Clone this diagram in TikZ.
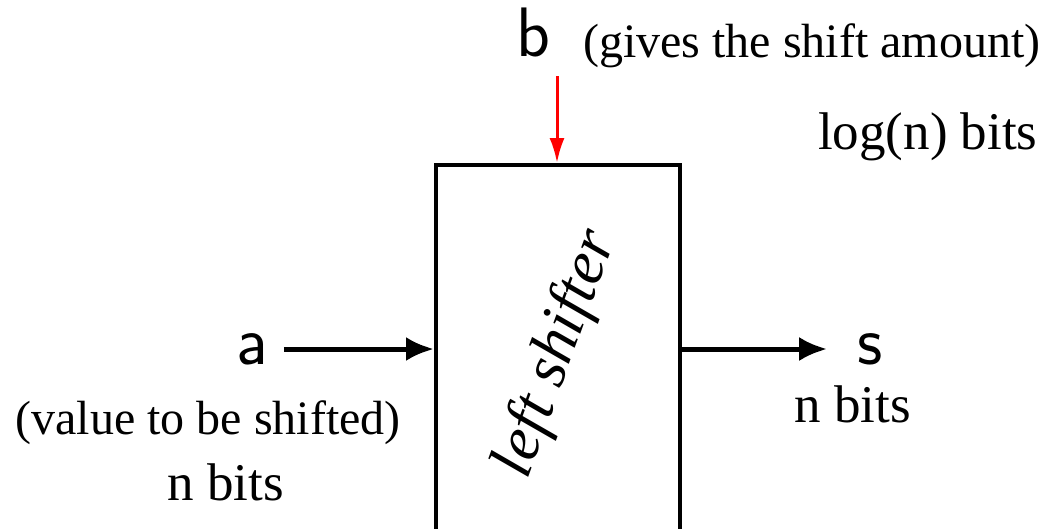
\documentclass[tikz,border=0pt]{standalone}
\usepackage{fontspec}
\setmainfont{Liberation Serif}[ItalicFont={Liberation Serif Italic}]
\newfontfamily\shifterfont{Liberation Serif Italic}
\usetikzlibrary{arrows.meta}
\begin{document}
\begin{tikzpicture}[x=1pt,y=-1pt,
  lbl/.style={inner sep=0pt, font=\fontsize{48}{56}\selectfont},
  bits/.style={inner sep=0pt, font=\fontsize{53}{60}\selectfont},
  hand/.style={inner sep=0pt, font=\sffamily\fontsize{70}{80}\selectfont},
  arr/.style={line width=5pt, -{Latex[length=28pt,width=24pt]}},
  redarr/.style={draw=red, line width=3pt, -{Latex[length=25pt,width=15pt]}}
]
\useasboundingbox (0,0) rectangle (1048,528);
\clip (0,0) rectangle (1048,528);
\fill[white] (0,0) rectangle (1048,528);
\node[draw, line width=4pt, minimum width=244pt, minimum height=375pt, inner sep=0pt] (box) at (558,352.5) {};
\node[inner sep=0pt, rotate=70, font=\shifterfont\fontsize{63}{70}\selectfont] (shl) at (557,354) {left shifter};
\node[hand] (b) at (533,32) {b};
\node[lbl, anchor=base west] (bnote) at (583,57) {(gives the shift amount)};
\node[bits, anchor=base west] (lognb) at (818,149) {log(n) bits};
\coordinate (bt) at (557,76);
\draw[redarr] (bt) -- (bt |- box.north);
\node[hand] (a) at (252,349) {a};
\node[lbl, anchor=base] (anote) at (208,434) {(value to be shifted)};
\node[bits, anchor=base] (anb) at (225.5,500) {n bits};
\draw[arr, shorten <=16pt] (a.east) -- (a.east -| box.west);
\node[hand] (s) at (870,349) {s};
\node[bits, anchor=base] (snb) at (852.5,422) {n bits};
\draw[arr, shorten >=30pt] (s.west -| box.east) -- (s.west);
\end{tikzpicture}
\end{document}
